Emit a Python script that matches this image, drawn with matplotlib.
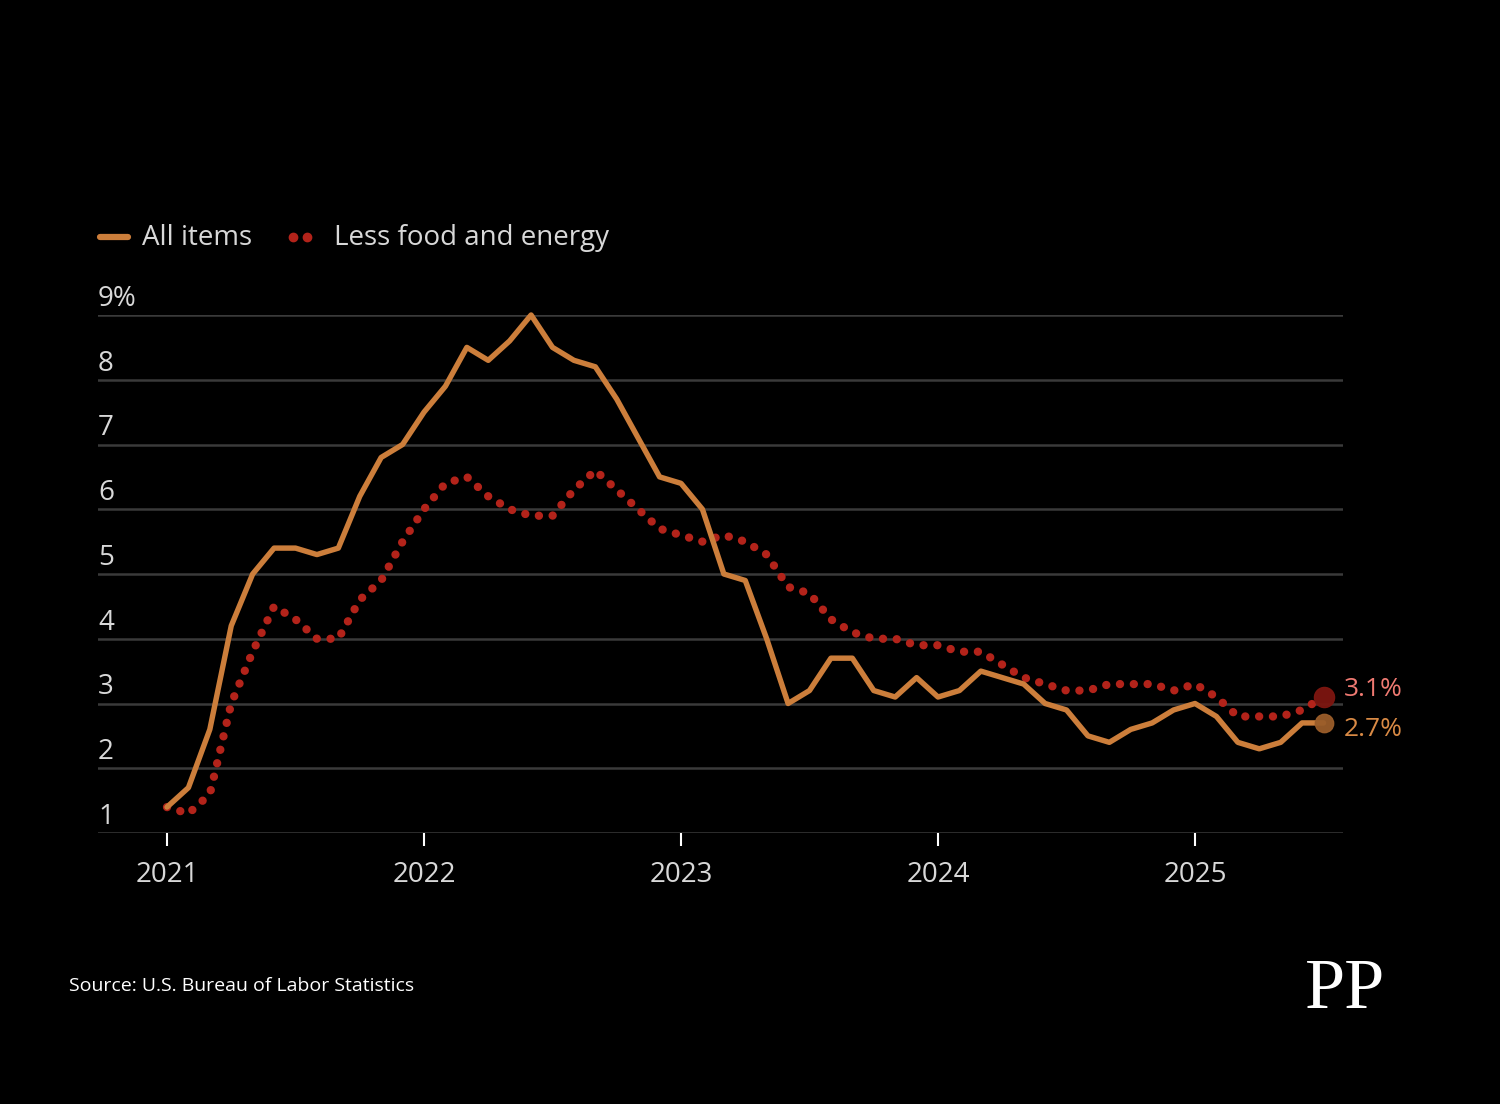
import numpy as np
import matplotlib.pyplot as plt
from matplotlib.lines import Line2D

# CPI, 12-month change, Jan 2021 - Jul 2025
all_items = [1.4, 1.7, 2.6, 4.2, 5.0, 5.4, 5.4, 5.3, 5.4, 6.2, 6.8, 7.0,
             7.5, 7.9, 8.5, 8.3, 8.6, 9.0, 8.5, 8.3, 8.2, 7.7, 7.1, 6.5,
             6.4, 6.0, 5.0, 4.9, 4.0, 3.0, 3.2, 3.7, 3.7, 3.2, 3.1, 3.4,
             3.1, 3.2, 3.5, 3.4, 3.3, 3.0, 2.9, 2.5, 2.4, 2.6, 2.7, 2.9,
             3.0, 2.8, 2.4, 2.3, 2.4, 2.7, 2.7]
core = [1.4, 1.3, 1.6, 3.0, 3.8, 4.5, 4.3, 4.0, 4.0, 4.6, 4.9, 5.5,
        6.0, 6.4, 6.5, 6.2, 6.0, 5.9, 5.9, 6.3, 6.6, 6.3, 6.0, 5.7,
        5.6, 5.5, 5.6, 5.5, 5.3, 4.8, 4.7, 4.3, 4.1, 4.0, 4.0, 3.9,
        3.9, 3.8, 3.8, 3.6, 3.4, 3.3, 3.2, 3.2, 3.3, 3.3, 3.3, 3.2,
        3.3, 3.1, 2.8, 2.8, 2.8, 2.9, 3.1]
years = ['2021', '2022', '2023', '2024', '2025']
y_ticks = [1, 2, 3, 4, 5, 6, 7, 8, 9]
y_labels = ['1', '2', '3', '4', '5', '6', '7', '8', '9%']

ORANGE = '#cc7e3b'
RED = '#b3231a'
GRID = '#3a3a3a'
TXT = '#d8d8d8'

plt.rcParams['font.family'] = ['Open Sans', 'DejaVu Sans']

fig = plt.figure(figsize=(15, 11.04), dpi=100, facecolor='black')
ax = fig.add_axes([98/1500, 1-833/1104, 1245/1500, 518/1104], facecolor='black')

months = np.arange(len(all_items))
ax.set_xlim(-69/21.417, 1176/21.417)
ax.set_ylim(1, 9)

for v in y_ticks:
    ax.axhline(v, color=GRID, lw=1.8, zorder=1)
    ax.text(0, v + 0.25, y_labels[v-1], transform=ax.get_yaxis_transform(),
            color=TXT, fontsize=20, ha='left', va='center')

ax.plot(months, core, color=RED, lw=6, linestyle=(0, (0.01, 1.65)),
        dash_capstyle='round', solid_joinstyle='round', zorder=3, clip_on=False)
ax.plot(months, all_items, color=ORANGE, lw=3.9, solid_joinstyle='round',
        solid_capstyle='round', zorder=4, clip_on=False)

# end markers and labels
last = months[-1]
ax.scatter([last], [core[-1]], s=210, color='#7d1610', alpha=0.95, zorder=5, clip_on=False)
ax.scatter([last], [all_items[-1]], s=175, color='#9a5d2a', alpha=0.95, zorder=5, clip_on=False)
ax.text(last + 0.95, core[-1] + 0.12, '3.1%', color='#f07a72', fontsize=19,
        va='center', ha='left')
ax.text(last + 0.95, all_items[-1] - 0.1, '2.7%', color='#d98a45', fontsize=19,
        va='center', ha='left')

ax.set_xticks([0, 12, 24, 36, 48])
ax.set_xticklabels(years)
ax.set_yticks([])
ax.tick_params(axis='x', colors='white', length=9, width=1.5, pad=11,
               labelsize=20, labelcolor=TXT, direction='out')
for s in ax.spines.values():
    s.set_visible(False)

# legend
fig.add_artist(Line2D([100/1500, 128/1500], [1-237/1104]*2, color=ORANGE, lw=4.5,
                      solid_capstyle='round'))
fig.text(142/1500, 1-238/1104, 'All items', color=TXT, fontsize=20, va='center', ha='left')
fig.add_artist(Line2D([293/1500, 307/1500], [1-237/1104]*2, color=RED, lw=0,
                      marker='o', markersize=6))
fig.text(334/1500, 1-238/1104, 'Less food and energy', color=TXT, fontsize=20,
         va='center', ha='left')

fig.text(69/1500, 1-986/1104, 'Source: U.S. Bureau of Labor Statistics', color='white',
         fontsize=14, va='center', ha='left')
fig.text(1345/1500, 1-990/1104, 'PP', color='white', fontsize=52, family='Liberation Serif',
         va='center', ha='center')

fig.savefig('out.png', dpi=100, facecolor='black')
